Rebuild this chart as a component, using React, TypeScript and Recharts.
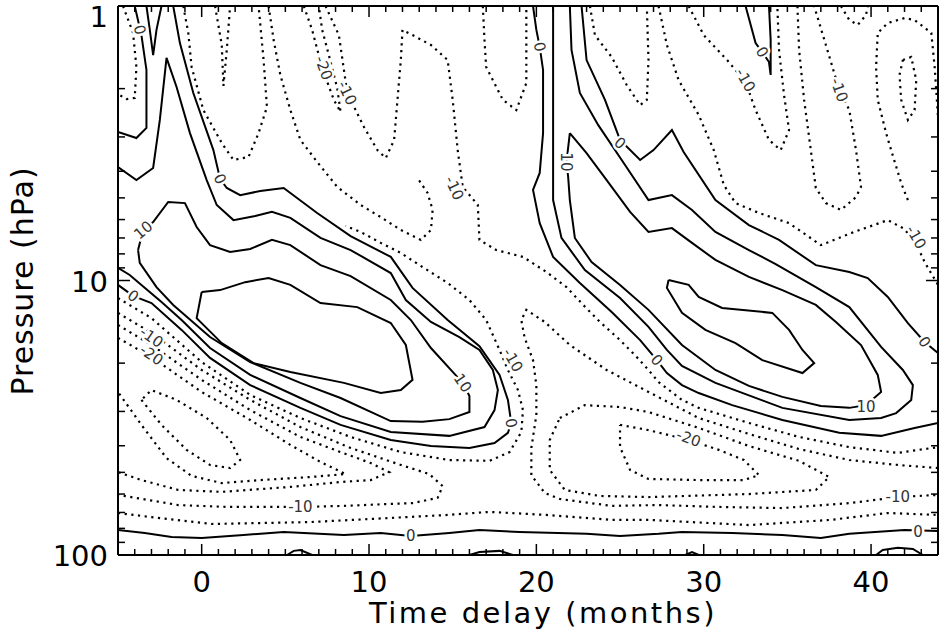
import { LineChart, Line, XAxis, YAxis } from 'recharts';

type Pt = [number, number];

// Contours: [time delay (months), log10 pressure (hPa)]
// solid = zero / positive levels, dotted = negative levels

// ---- left (first) positive band ----
const leftBand0: Pt[] = [[-1.7,0],[-1.3,0.135],[-0.5,0.317],[0.7,0.525],[1.1,0.630],[1.5,0.663],[2.3,0.689],[3.5,0.674],[4.9,0.663],[6.9,0.754],[8.9,0.838],[11.3,0.914],[12.6,1.027],[14.7,1.144],[16.6,1.239],[17.8,1.344],[18.3,1.435],[18.5,1.519],[18.3,1.555],[17.5,1.592],[16.0,1.610],[13.7,1.603],[11.3,1.581],[8.3,1.526],[5.9,1.464],[2.9,1.381],[0.5,1.282],[-1.2,1.180],[-3.0,1.082],[-4.1,1.056],[-5,1.016]];
const leftBand5: Pt[] = [[-5,0.587],[-3.9,0.634],[-2.9,0.590],[-2.5,0.415],[-2.1,0.189],[-1.5,0.295],[-0.7,0.463],[0.3,0.634],[0.9,0.725],[1.9,0.780],[3.2,0.765],[4.2,0.750],[5.3,0.772],[7.1,0.845],[8.9,0.889],[11.3,0.973],[12.2,1.071],[13.7,1.151],[15.4,1.206],[16.6,1.253],[17.4,1.326],[17.7,1.399],[17.5,1.472],[16.9,1.534],[14.8,1.566],[11.3,1.552],[8.3,1.494],[5.9,1.428],[2.9,1.344],[0.5,1.246],[-1.2,1.144],[-2.4,1.078],[-3.6,1.016],[-4.3,0.980],[-5,0.954]];
const leftBand10: Pt[] = [[-3.8,0.889],[-3.7,0.936],[-2.7,1.024],[-1.7,1.089],[0.5,1.206],[2.9,1.297],[5.9,1.373],[8.3,1.428],[11.3,1.512],[13.2,1.515],[14.8,1.505],[16.0,1.479],[16.0,1.421],[15.6,1.373],[15.0,1.333],[13.7,1.246],[12.5,1.144],[11.3,1.071],[8.9,0.984],[7.1,0.944],[5.3,0.871],[4.2,0.852],[2.9,0.885],[1.7,0.896],[0.5,0.871],[-0.3,0.805],[-1.0,0.718],[-2.0,0.714],[-2.9,0.787],[-3.5,0.816],[-3.8,0.889]];
const leftBand15: Pt[] = [[0.0,1.042],[1.1,1.035],[2.6,1.006],[4.0,0.991],[5.3,1.016],[7.1,1.082],[9.3,1.097],[11.3,1.155],[12.2,1.235],[12.6,1.362],[11.9,1.399],[10.7,1.410],[8.5,1.373],[5.3,1.333],[3.1,1.301],[1.2,1.228],[-0.3,1.137],[0.0,1.042]];
const leftCorner0: Pt[] = [[-4.0,0],[-3.6,0.106],[-3.3,0.233],[-3.3,0.379],[-3.3,0.444],[-3.9,0.481],[-5,0.459]];
const leftCornerV: Pt[] = [[-3.3,0],[-3.1,0.087],[-2.9,0.179],[-2.7,0.087],[-2.4,0]];

// ---- right (second) positive band ----
const rightBand0: Pt[] = [[19.8,0],[20.0,0.087],[20.2,0.149],[20.4,0.233],[20.4,0.463],[20.2,0.608],[19.8,0.670],[20.2,0.791],[21.0,0.914],[22.6,1.009],[24.5,1.115],[26.2,1.217],[27.2,1.290],[27.8,1.337],[28.7,1.381],[29.7,1.410],[31.7,1.454],[34.7,1.508],[38.1,1.555],[40.6,1.566],[42.6,1.537],[44,1.519]];
const rightBand0Upper: Pt[] = [[22.7,0],[23.0,0.197],[24.1,0.342],[25.0,0.488],[26.2,0.561],[27.0,0.525],[28.1,0.452],[28.8,0.532],[30.7,0.707],[32.7,0.798],[34.5,0.852],[36.7,0.944],[38.7,0.969],[39.8,0.991],[41.0,1.060],[42.2,1.155],[43.2,1.224],[44,1.264]];
const rightBand5: Pt[] = [[21.0,0],[21.0,0.222],[21.0,0.707],[21.5,0.845],[22.9,0.962],[25.0,1.064],[26.7,1.169],[27.8,1.253],[28.7,1.311],[30.7,1.373],[34.7,1.464],[38.7,1.508],[40.6,1.501],[41.5,1.483],[42.4,1.435],[42.5,1.381],[41.9,1.326],[40.6,1.242],[38.7,1.097],[36.7,1.024],[34.3,0.940],[32.7,0.889],[30.7,0.823],[29.3,0.743],[28.1,0.689],[26.7,0.707],[25.3,0.579],[23.7,0.434],[22.6,0.317],[22.1,0.160],[22.0,0]];
const rightBand10: Pt[] = [[22.0,0.463],[23.0,0.536],[24.2,0.634],[25.6,0.750],[26.7,0.823],[28.1,0.809],[29.3,0.863],[30.7,0.925],[32.7,0.987],[34.7,1.035],[36.7,1.089],[37.9,1.151],[39.4,1.235],[40.4,1.344],[40.6,1.406],[39.7,1.454],[38.7,1.464],[37.0,1.457],[34.7,1.424],[32.7,1.384],[30.7,1.326],[28.7,1.235],[26.7,1.107],[25.0,1.016],[23.3,0.933],[22.3,0.845],[22.0,0.707],[21.9,0.623],[21.8,0.568],[22.0,0.463]];
const rightBand15: Pt[] = [[27.9,0.998],[29.1,1.016],[29.7,1.060],[31.1,1.100],[34.1,1.118],[35.1,1.180],[35.9,1.253],[36.6,1.301],[35.9,1.337],[33.5,1.290],[31.9,1.228],[30.1,1.180],[28.7,1.118],[27.8,1.027],[27.9,0.998]];
const rightTopV: Pt[] = [[32.5,0],[33.1,0.135],[33.5,0.168],[33.9,0.204],[34.0,0.251],[34.0,0.124],[33.9,0]];

// ---- zero line near 100 hPa and small cells on the bottom axis ----
const bottomZero: Pt[] = [[-5,1.909],[-3.4,1.920],[-1.8,1.934],[0.0,1.938],[2.5,1.927],[4.9,1.916],[6.1,1.920],[8.5,1.927],[10.7,1.920],[12.5,1.931],[14.8,1.920],[16.6,1.909],[19.0,1.916],[23.0,1.923],[25.0,1.931],[27.3,1.923],[28.7,1.916],[31.7,1.920],[34.7,1.927],[37.0,1.938],[38.7,1.923],[42.0,1.909],[44,1.913]];
const bump1: Pt[] = [[5.1,2],[5.5,1.985],[5.9,1.982],[6.6,2]];
const bump2: Pt[] = [[16.0,2],[16.6,1.989],[17.8,1.985],[18.6,2]];
const bump3: Pt[] = [[28.9,2],[29.3,1.989],[29.7,2]];
const bump4: Pt[] = [[40.3,2],[40.7,1.982],[41.6,1.974],[42.5,1.978],[43.1,2]];

// ---- negative contours, upper part ----
const topLeftLoop: Pt[] = [[-4.7,0],[-4.1,0.098],[-3.9,0.222],[-4.0,0.335],[-4.5,0.339],[-5,0.321]];
const topU1: Pt[] = [[-1.1,0],[-0.8,0.098],[-0.6,0.222],[0.1,0.379],[1.2,0.499],[1.9,0.561],[2.8,0.550],[3.4,0.463],[3.9,0.368],[3.7,0.197],[3.4,0]];
const topNarrow: Pt[] = [[0.8,0],[1.2,0.142],[1.3,0.291],[1.5,0.160],[1.7,0]];
const topDiag: Pt[] = [[4.0,0],[4.3,0.124],[4.7,0.251],[5.3,0.379],[5.9,0.488],[6.9,0.568],[8.1,0.659],[9.5,0.725],[10.7,0.769],[11.9,0.816],[13.1,0.852],[13.7,0.816],[13.8,0.743],[13.5,0.681],[12.9,0.627]];
const topMinus20: Pt[] = [[6.1,0],[6.6,0.087],[7.2,0.226],[7.9,0.342],[8.3,0.386],[8.1,0.299],[7.6,0.179],[7.2,0.087],[7.0,0]];
const midLong: Pt[] = [[7.4,0],[8.2,0.106],[8.7,0.317],[9.7,0.441],[10.5,0.525],[11.0,0.554],[11.5,0.488],[11.7,0.342],[11.9,0.197],[12.0,0.087],[12.6,0.106],[13.7,0.142],[14.7,0.197],[15.0,0.342],[15.3,0.525],[15.6,0.659],[16.5,0.725],[16.6,0.852],[17.6,0.889],[19.2,0.914],[20.6,0.969],[21.8,1.024],[22.8,1.089],[23.8,1.151],[25.0,1.217],[26.0,1.279],[26.7,1.326],[27.3,1.370],[28.7,1.435],[29.7,1.464],[32.7,1.519],[35.7,1.570],[38.7,1.607],[41.6,1.628],[44,1.607]];
const midU: Pt[] = [[16.8,0],[16.9,0.124],[17.0,0.222],[18.0,0.342],[18.8,0.379],[19.4,0.281],[19.4,0.040],[19.4,0]];
const rightU1: Pt[] = [[23.2,0],[23.5,0.106],[24.5,0.186],[25.4,0.288],[26.2,0.361],[26.6,0.342],[26.7,0.197],[26.6,0]];
const rightV: Pt[] = [[27.3,0],[27.8,0.142],[28.5,0.270],[29.7,0.397],[30.6,0.525],[31.2,0.652],[31.9,0.718],[33.3,0.754],[35.1,0.791],[37.0,0.871],[39.0,0.823],[41.0,0.780],[41.9,0.809],[42.6,0.852],[43.2,0.933],[44,1.016]];
const rightU2: Pt[] = [[29.1,0],[30.0,0.106],[31.4,0.197],[32.5,0.277],[33.1,0.379],[33.9,0.488],[34.6,0.525],[35.1,0.452],[34.8,0.324],[34.5,0.160],[34.4,0]];
const rightU3: Pt[] = [[35.6,0],[35.7,0.160],[36.0,0.342],[36.4,0.525],[36.7,0.663],[37.3,0.718],[38.2,0.743],[39.1,0.696],[39.4,0.659],[39.1,0.525],[38.7,0.379],[38.1,0.306],[37.3,0.142],[36.6,0]];
const rightCap: Pt[] = [[42.2,0.707],[41.8,0.645],[41.2,0.525],[40.9,0.463],[40.4,0.342],[40.3,0.222],[40.4,0.098],[41.0,0.062],[42.0,0.044],[42.6,0.051],[43.6,0.098],[43.8,0.222],[44,0.404]];
const rightLoop: Pt[] = [[41.9,0.197],[42.4,0.186],[42.7,0.270],[42.6,0.379],[42.2,0.415],[41.8,0.342],[41.7,0.251],[41.9,0.197]];
const rightTopU: Pt[] = [[38.2,0],[38.7,0.051],[39.2,0.069],[39.7,0.033],[39.8,0]];

// ---- negative contours, lower part ----
const lowMinus5: Pt[] = [[-5,1.064],[-3.0,1.137],[0.0,1.297],[2.9,1.417],[5.9,1.501],[8.9,1.570],[11.9,1.625],[14.8,1.654],[17.2,1.657],[18.4,1.625],[19.1,1.552],[19.2,1.472],[18.9,1.399],[18.3,1.326],[17.8,1.253],[17.0,1.144],[16.0,1.071],[14.7,1.009],[13.2,0.951],[11.9,0.900],[10.7,0.863],[9.5,0.823],[8.6,0.801]];
const lowMinus10: Pt[] = [[-5,1.118],[-3.0,1.191],[0.0,1.326],[2.9,1.435],[5.9,1.534],[8.9,1.610],[11.9,1.672],[13.6,1.705],[14.4,1.749],[14.1,1.792],[12.6,1.811],[11.3,1.814],[8.5,1.821],[5.9,1.825],[1.6,1.825],[-1.4,1.818],[-5,1.781]];
const lowMinus15: Pt[] = [[-5,1.162],[-3.0,1.235],[0.0,1.362],[2.9,1.472],[5.9,1.570],[8.3,1.625],[10.1,1.665],[11.2,1.698],[10.1,1.727],[8.3,1.734],[5.3,1.752],[1.2,1.770],[-1.4,1.763],[-3.6,1.727],[-5,1.698]];
const lowMinus20: Pt[] = [[-5,1.209],[-3.0,1.279],[0.0,1.406],[2.9,1.508],[5.3,1.599],[7.1,1.661],[8.6,1.705],[6.5,1.716],[3.5,1.727],[1.2,1.738],[-0.6,1.712],[-2.1,1.647],[-3.6,1.526],[-5,1.406]];
const lowMinus25: Pt[] = [[-3.6,1.435],[-2.4,1.526],[-0.9,1.617],[0.5,1.672],[1.7,1.683],[2.3,1.654],[1.7,1.581],[0.3,1.501],[-1.5,1.435],[-3.0,1.399],[-3.6,1.435]];
const bottomMinus5: Pt[] = [[-5,1.847],[-3.0,1.862],[0.6,1.887],[6.5,1.880],[11.3,1.865],[14.7,1.854],[17.2,1.843],[20.6,1.854],[24.5,1.872],[26.7,1.872],[32.7,1.891],[37.6,1.872],[41.0,1.847],[44,1.854]];
const midMinus10: Pt[] = [[44,1.683],[41.6,1.672],[38.7,1.654],[35.7,1.614],[32.7,1.559],[29.7,1.501],[26.7,1.406],[24.2,1.326],[22.0,1.235],[20.5,1.151],[19.4,1.107],[19.1,1.144],[19.3,1.209],[19.8,1.290],[20.0,1.381],[20.0,1.490],[19.7,1.610],[19.7,1.709],[20.5,1.774],[21.4,1.796],[24.5,1.821],[27.3,1.818],[30.9,1.825],[34.7,1.829],[38.7,1.811],[41.6,1.789],[44,1.781]];
const midMinus15: Pt[] = [[21.4,1.501],[22.9,1.454],[25.0,1.461],[26.7,1.479],[29.7,1.537],[32.7,1.603],[35.7,1.657],[37.5,1.716],[36.7,1.763],[32.7,1.778],[26.7,1.789],[23.8,1.785],[21.7,1.763],[20.8,1.690],[20.8,1.581],[21.4,1.501]];
const midMinus20: Pt[] = [[25.0,1.526],[26.7,1.545],[29.1,1.581],[30.9,1.617],[32.4,1.654],[33.3,1.709],[32.4,1.727],[29.7,1.727],[26.7,1.723],[25.6,1.690],[25.0,1.607],[25.0,1.526]];

// contour labels: [month, log10 hPa, text]
const contourLabels: [number, number, string][] = [
  [1.1,0.630,'0'],[18.5,1.519,'0'],[-4.1,1.056,'0'],[-3.5,0.816,'10'],[15.6,1.373,'10'],[-3.7,0.087,'0'],
  [-3.0,1.206,'-10'],[-3.0,1.271,'-20'],[7.3,0.226,'-20'],[8.7,0.317,'-10'],[15.1,0.663,'-10'],[18.6,1.290,'-10'],
  [20.2,0.149,'0'],[21.8,0.568,'10'],[25.0,0.499,'0'],[33.5,0.168,'0'],[32.5,0.270,'-10'],[38.1,0.306,'-10'],
  [42.7,0.842,'-10'],[43.2,1.224,'0'],[27.2,1.290,'0'],[39.7,1.461,'10'],[29.1,1.574,'-20'],[41.6,1.789,'-10'],
  [42.8,1.916,'0'],[5.9,1.825,'-10'],[12.5,1.931,'0'],
];

const monthTicks = [-5,-4,-3,-2,-1,0,1,2,3,4,5,6,7,8,9,10,11,12,13,14,15,16,17,18,19,20,21,22,23,24,25,26,27,28,29,30,31,32,33,34,35,36,37,38,39,40,41,42,43,44];
const monthLabels = [0, 10, 20, 30, 40];
const logPressureTicks = [0,0.301,0.477,0.602,0.699,0.778,0.845,0.903,0.954,1,1.301,1.477,1.602,1.699,1.778,1.845,1.903,1.954,2];
const pressureLabels = ['1', '10', '100'];

const solidContours = [leftBand0, leftBand5, leftBand10, leftBand15, leftCorner0, leftCornerV, rightBand0, rightBand0Upper, rightBand5, rightBand10, rightBand15, rightTopV, bottomZero, bump1, bump2, bump3, bump4];
const dottedContours = [topLeftLoop, topU1, topNarrow, topDiag, topMinus20, midLong, midU, rightU1, rightV, rightU2, rightU3, rightCap, rightLoop, rightTopU, lowMinus5, lowMinus10, lowMinus15, lowMinus20, lowMinus25, bottomMinus5, midMinus10, midMinus15, midMinus20];

// styling: text angle (degrees) of each contour label, in the order of contourLabels
const LABEL_ROTATION = [65, 80, 35, -40, 55, 75, 35, 35, 70, 65, 65, 60, 80, 90, 40, 60, 60, 70, 60, 55, 50, 0, 20, 0, 0, 0, 0];

const FONT = '"DejaVu Sans", sans-serif';
const toRows = (pts: Pt[]) => pts.map(([m, lg]) => ({ m, lg }));
const isMajorLog = (v: number) => Math.abs(v - Math.round(v)) < 1e-6;

function BottomTick({ x, y, payload }: any) {
  const major = monthLabels.includes(payload.value);
  return (
    <g>
      <line x1={x} y1={y} x2={x} y2={y - (major ? 11 : 6)} stroke="#000" strokeWidth={1.5} />
      {major && (
        <text x={x} y={y + 37} textAnchor="middle" fontFamily={FONT} fontSize={29} fill="#000">
          {payload.value}
        </text>
      )}
    </g>
  );
}

function TopTick({ x, y, payload }: any) {
  const major = monthLabels.includes(payload.value);
  return <line x1={x} y1={y} x2={x} y2={y + (major ? 11 : 6)} stroke="#000" strokeWidth={1.5} />;
}

function LeftTick({ x, y, payload }: any) {
  const major = isMajorLog(payload.value);
  const label = major ? pressureLabels[Math.round(payload.value)] : null;
  const dy = payload.value === 0 ? 21 : 11;
  return (
    <g>
      <line x1={x} y1={y} x2={x + (major ? 12 : 7)} y2={y} stroke="#000" strokeWidth={1.5} />
      {label && (
        <text x={x - 10} y={y + dy} textAnchor="end" fontFamily={FONT} fontSize={29} fill="#000">
          {label}
        </text>
      )}
    </g>
  );
}

function RightTick({ x, y, payload }: any) {
  const major = isMajorLog(payload.value);
  return <line x1={x} y1={y} x2={x - (major ? 12 : 7)} y2={y} stroke="#000" strokeWidth={1.5} />;
}

function ContourLabel({ cx, cy, payload, index }: any) {
  if (cx == null || cy == null) return null;
  const angle = LABEL_ROTATION[index] ?? 0;
  return (
    <text
      x={cx}
      y={cy}
      dy="0.35em"
      textAnchor="middle"
      transform={`rotate(${angle} ${cx} ${cy})`}
      fontFamily={FONT}
      fontSize={15}
      fill="#333"
      stroke="#fff"
      strokeWidth={5}
      strokeLinejoin="round"
      paintOrder="stroke"
    >
      {payload.text}
    </text>
  );
}

export default function App() {
  const axisLine = { stroke: '#000', strokeWidth: 2 };
  const shared = {
    type: 'number' as const,
    interval: 0 as const,
    allowDataOverflow: true,
    tickSize: 0,
    tickMargin: 0,
    tickLine: false,
    axisLine,
  };
  return (
    <div style={{ position: 'absolute', left: 0, top: 0, width: 942, height: 636, background: '#fff' }}>
      <LineChart width={942} height={636} margin={{ top: 4, right: 2, bottom: 1, left: 58 }}>
        <XAxis {...shared} dataKey="m" domain={[-5, 44]} ticks={monthTicks} height={80} tick={<BottomTick />} />
        <XAxis {...shared} xAxisId="top" orientation="top" dataKey="m" domain={[-5, 44]} ticks={monthTicks} height={2} tick={<TopTick />} />
        <YAxis {...shared} dataKey="lg" domain={[0, 2]} reversed ticks={logPressureTicks} width={60} tick={<LeftTick />} />
        <YAxis {...shared} yAxisId="right" orientation="right" dataKey="lg" domain={[0, 2]} reversed ticks={logPressureTicks} width={2} tick={<RightTick />} />
        {solidContours.map((c, i) => (
          <Line
            key={`s${i}`}
            data={toRows(c)}
            dataKey="lg"
            type="linear"
            stroke="#000"
            strokeWidth={2}
            dot={false}
            activeDot={false}
            isAnimationActive={false}
          />
        ))}
        {dottedContours.map((c, i) => (
          <Line
            key={`d${i}`}
            data={toRows(c)}
            dataKey="lg"
            type="linear"
            stroke="#000"
            strokeWidth={2.2}
            strokeDasharray="2.2 4.5"
            dot={false}
            activeDot={false}
            isAnimationActive={false}
          />
        ))}
        <Line
          data={contourLabels.map(([m, lg, text]) => ({ m, lg, text }))}
          dataKey="lg"
          stroke="none"
          dot={(p: any) => <ContourLabel key={`l${p.index}`} {...p} />}
          activeDot={false}
          isAnimationActive={false}
        />
      </LineChart>
      <div
        style={{
          position: 'absolute',
          left: 243,
          top: 599,
          width: 600,
          textAlign: 'center',
          fontFamily: FONT,
          fontSize: 29,
          lineHeight: '29px',
          letterSpacing: 2.5,
          color: '#000',
        }}
      >
        Time delay (months)
      </div>
      <div
        style={{
          position: 'absolute',
          left: 23 - 150,
          top: 281 - 15,
          width: 300,
          height: 30,
          textAlign: 'center',
          fontFamily: FONT,
          fontSize: 30,
          lineHeight: '30px',
          letterSpacing: 1,
          color: '#000',
          transform: 'rotate(-90deg)',
        }}
      >
        Pressure (hPa)
      </div>
    </div>
  );
}
